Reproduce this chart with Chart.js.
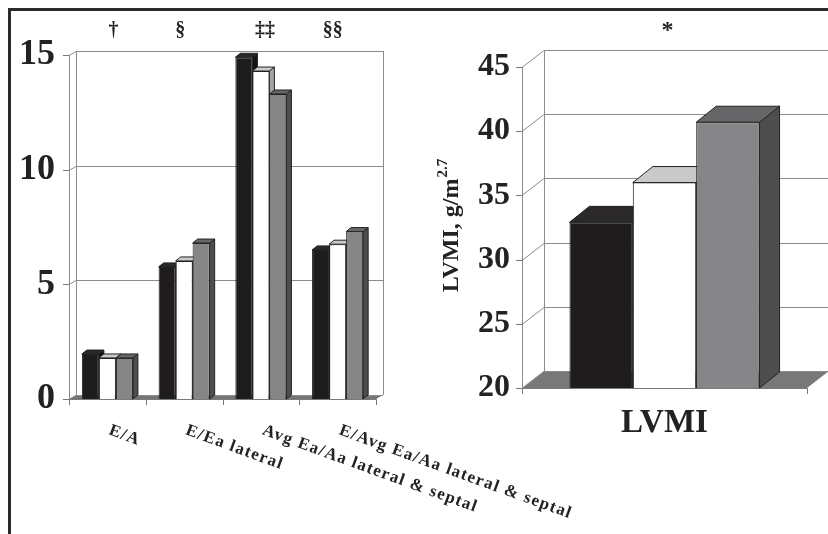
<!DOCTYPE html>
<html>
<head>
<meta charset="utf-8">
<script src="https://cdn.jsdelivr.net/npm/chart.js@4.4.0/dist/chart.umd.min.js"></script>
<style>
  html, body { margin: 0; padding: 0; background: #fff; }
  #page { position: relative; width: 828px; height: 534px; overflow: hidden; background: #fff; }
  #frame { position: absolute; left: 8px; top: 8px; width: 840px; height: 560px;
           border-top: 3px solid #2a2a2a; border-left: 3px solid #2a2a2a; }
  #left  { position: absolute; left: 0; top: 0; }
  #right { position: absolute; left: 420px; top: 0; }
</style>
</head>
<body>
<div id="page">
  <div id="frame"></div>
  <canvas id="left" width="828" height="534"></canvas>
  <canvas id="right" width="408" height="534"></canvas>
</div>
<script>
// ---- data ----
const leftCategories = ['E/A', 'E/Ea lateral', 'Avg Ea/Aa lateral & septal', 'E/Avg Ea/Aa lateral & septal'];
const leftMarks      = ['†', '§', '‡‡', '§§'];
const leftGroup1     = [1.96, 5.76, 14.9, 6.5];
const leftGroup2     = [1.79, 6.02, 14.3, 6.75];
const leftGroup3     = [1.79, 6.8, 13.3, 7.3];
const leftTicks      = [0, 5, 10, 15];

const rightCategories = ['LVMI'];
const rightMarks      = ['*'];
const rightGroup1     = [32.9];
const rightGroup2     = [36.0];
const rightGroup3     = [40.7];
const rightTicks      = [20, 25, 30, 35, 40, 45];
const rightTitle      = 'LVMI, g/m';
const rightTitleSup   = '2.7';

const SERIF = '"Liberation Serif", "Times New Roman", serif';

// front face / top face / side face for each series
const BAR_STYLE = [
  { front: '#1f1c1d', top: '#2b2829', side: '#141213' },
  { front: '#ffffff', top: '#cacaca', side: '#a5a5a5' },
  { front: '#868688', top: '#666668', side: '#4e4e50' },
];

/** Draws the 3D walls, floor and the top/side faces of each bar. */
const walls3d = {
  id: 'walls3d',
  beforeDatasetsDraw(chart, args, o) {
    const ctx = chart.ctx;
    const { left: L, right: R, top: T, bottom: B } = chart.chartArea;
    const ys = chart.scales.y;
    const n = chart.data.labels.length;
    ctx.save();
    ctx.lineWidth = 1;

    // floor
    ctx.fillStyle = o.floor;
    ctx.beginPath();
    ctx.moveTo(L, B); ctx.lineTo(R, B);
    ctx.lineTo(R + o.wx, B + o.wy); ctx.lineTo(L + o.wx, B + o.wy);
    ctx.closePath(); ctx.fill();

    // gridlines on side + back wall, tick marks on the front axis
    ys.ticks.forEach(t => {
      const py = Math.round(ys.getPixelForValue(t.value)) + 0.5;
      ctx.strokeStyle = o.grid;
      ctx.beginPath();
      ctx.moveTo(L, py);
      ctx.lineTo(L + o.wx, py + o.wy);
      ctx.lineTo(R + o.wx, py + o.wy);
      ctx.stroke();
      ctx.strokeStyle = o.axis;
      ctx.beginPath();
      ctx.moveTo(L - o.tick, py); ctx.lineTo(L, py);
      ctx.stroke();
    });

    // wall edges
    ctx.strokeStyle = o.grid;
    const tb = Math.round(ys.getPixelForValue(ys.max));
    [[L, 0], [L + o.wx, o.wy], [R + o.wx, o.wy]].forEach(([x, d]) => {
      const px = Math.round(x) + 0.5;
      ctx.beginPath();
      ctx.moveTo(px, tb + d); ctx.lineTo(px, B + d);
      ctx.stroke();
    });

    // front floor edge with category ticks
    ctx.strokeStyle = o.axis;
    ctx.beginPath();
    ctx.moveTo(L, Math.round(B) + 0.5); ctx.lineTo(R, Math.round(B) + 0.5);
    for (let i = 0; i <= n; i++) {
      const px = Math.round(L + i * (R - L) / n) + 0.5;
      ctx.moveTo(px, B); ctx.lineTo(px, B + o.tick);
    }
    ctx.stroke();

    // bar top and side faces, left to right so later bars overlap earlier
    const items = [];
    chart.data.datasets.forEach((ds, di) => {
      chart.getDatasetMeta(di).data.forEach(bar => items.push({ bar, style: BAR_STYLE[di] }));
    });
    items.sort((a, b) => a.bar.x - b.bar.x);
    ctx.strokeStyle = '#222';
    items.forEach(({ bar, style }) => {
      const x0 = bar.x - bar.width / 2, x1 = bar.x + bar.width / 2;
      const top = bar.y, base = Math.min(bar.base, B);
      ctx.fillStyle = style.side;
      ctx.beginPath();
      ctx.moveTo(x1, top); ctx.lineTo(x1 + o.bx, top + o.by);
      ctx.lineTo(x1 + o.bx, base + o.by); ctx.lineTo(x1, base);
      ctx.closePath(); ctx.fill(); ctx.stroke();
      ctx.fillStyle = style.top;
      ctx.beginPath();
      ctx.moveTo(x0, top); ctx.lineTo(x0 + o.bx, top + o.by);
      ctx.lineTo(x1 + o.bx, top + o.by); ctx.lineTo(x1, top);
      ctx.closePath(); ctx.fill(); ctx.stroke();
    });
    ctx.restore();
  },
};

/** Significance marks, category labels and the axis title. */
const annotations = {
  id: 'annotations',
  afterDraw(chart, args, o) {
    const ctx = chart.ctx;
    const xs = chart.scales.x;
    ctx.save();
    ctx.fillStyle = '#222';

    // significance marks above each category
    ctx.font = o.markFont;
    ctx.textAlign = 'center';
    ctx.textBaseline = 'middle';
    o.marks.forEach((m, i) => ctx.fillText(m, xs.getPixelForValue(i) + o.markShift[i], o.markY));

    // category labels
    chart.data.labels.forEach((lab, i) => {
      const px = xs.getPixelForValue(i);
      ctx.save();
      ctx.font = o.labelFont;
      ctx.letterSpacing = o.labelSpacing;
      if (o.labelAngle) {
        ctx.translate(px + o.labelShift, o.labelY);
        ctx.rotate(o.labelAngle * Math.PI / 180);
        ctx.textAlign = 'left';
        ctx.textBaseline = 'top';
        ctx.fillText(lab, 0, 0);
      } else {
        ctx.textAlign = 'center';
        ctx.textBaseline = 'middle';
        ctx.fillText(lab, px, o.labelY);
      }
      ctx.restore();
    });

    // rotated y title with superscript
    if (o.title) {
      ctx.save();
      ctx.translate(o.titleX, o.titleY);
      ctx.rotate(-Math.PI / 2);
      ctx.textBaseline = 'alphabetic';
      ctx.textAlign = 'left';
      ctx.font = 'bold 24px ' + SERIF;
      const w1 = ctx.measureText(o.title).width;
      ctx.font = 'bold 15px ' + SERIF;
      const w2 = ctx.measureText(o.titleSup).width;
      const x0 = -(w1 + w2) / 2;
      ctx.font = 'bold 24px ' + SERIF;
      ctx.fillText(o.title, x0, 8);
      ctx.font = 'bold 15px ' + SERIF;
      ctx.fillText(o.titleSup, x0 + w1 + 1, -3);
      ctx.restore();
    }
    ctx.restore();
  },
};

function buildBarChart(canvasId, cfg) {
  const datasets = cfg.series.map((data, i) => ({
    label: 'Group ' + (i + 1),
    data,
    backgroundColor: BAR_STYLE[i].front,
    borderColor: '#222',
    borderWidth: 1,
    borderSkipped: 'bottom',
    categoryPercentage: cfg.catPct,
    barPercentage: 1,
  }));

  return new Chart(document.getElementById(canvasId), {
    type: 'bar',
    data: { labels: cfg.labels, datasets },
    plugins: [walls3d, annotations],
    options: {
      responsive: false,
      animation: false,
      layout: { padding: cfg.padding },
      plugins: {
        legend: { display: false },
        tooltip: { enabled: false },
        walls3d: cfg.walls,
        annotations: cfg.notes,
      },
      scales: {
        x: { type: 'category', offset: true, display: false },
        y: {
          min: cfg.ticks[0],
          max: cfg.ticks[cfg.ticks.length - 1],
          afterBuildTicks: s => { s.ticks = cfg.ticks.map(v => ({ value: v })); },
          afterFit: s => { s.width = cfg.yWidth; },
          grid: { display: false, drawTicks: false },
          border: { display: false },
          ticks: {
            color: '#222',
            padding: cfg.tickPad,
            font: { family: SERIF, size: cfg.tickSize, weight: 'bold' },
          },
        },
      },
    },
  });
}

buildBarChart('left', {
  labels: leftCategories,
  series: [leftGroup1, leftGroup2, leftGroup3],
  ticks: leftTicks,
  catPct: 0.665,
  padding: { left: 0, top: 55, right: 452, bottom: 135 },
  yWidth: 69,
  tickPad: 14,
  tickSize: 36,
  walls: { wx: 7, wy: -4, bx: 5, by: -4, tick: 6, grid: '#8c8c8c', axis: '#7a7a7a', floor: '#757575' },
  notes: {
    marks: leftMarks, markFont: 'bold 20px ' + SERIF, markY: 31, markShift: [6, -4, 4, -5],
    labelFont: 'bold 17px ' + SERIF, labelSpacing: '1.3px', labelAngle: 20, labelShift: 5, labelY: 422,
  },
});

buildBarChart('right', {
  labels: rightCategories,
  series: [rightGroup1, rightGroup2, rightGroup3],
  ticks: rightTicks,
  catPct: 0.667,
  padding: { left: 0, top: 67, right: 21, bottom: 146 },
  yWidth: 102,
  tickPad: 12,
  tickSize: 32,
  walls: { wx: 22, wy: -17, bx: 20, by: -16, tick: 6, grid: '#8c8c8c', axis: '#7a7a7a', floor: '#787878' },
  notes: {
    marks: rightMarks, markFont: 'bold 24px ' + SERIF, markY: 31, markShift: [3],
    labelFont: 'bold 33px ' + SERIF, labelSpacing: '0px', labelAngle: 0, labelY: 423,
    title: rightTitle, titleSup: rightTitleSup, titleX: 30, titleY: 226,
  },
});
</script>
</body>
</html>
